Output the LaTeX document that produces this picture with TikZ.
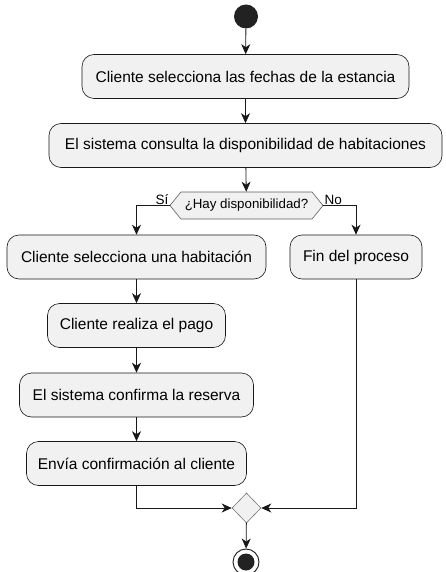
\documentclass[tikz,border=0pt]{standalone}
\usepackage{fontspec}
\setmainfont{Liberation Sans}
\usetikzlibrary{arrows.meta,shapes.geometric,shapes.symbols}
\definecolor{lineclr}{HTML}{181818}
\definecolor{boxclr}{HTML}{F1F1F1}
\definecolor{dotclr}{HTML}{222222}

\begin{document}
\begin{tikzpicture}[x=1pt,y=-1pt,
    act/.style={draw=lineclr,fill=boxclr,rounded corners=12pt,line width=0.6pt,minimum height=44pt,inner sep=0pt,font=\fontsize{15.5}{18}\selectfont},
    choice/.style={draw=lineclr!70,fill=boxclr,line width=0.6pt,shape=signal,signal to=east and west,signal pointer angle=102,minimum height=27pt,minimum width=153pt,inner sep=0pt,font=\fontsize{13.3}{16}\selectfont},
    merge/.style={draw=lineclr!60,fill=boxclr,shape=diamond,line width=0.6pt,minimum width=29pt,minimum height=30pt,inner sep=0pt},
    guard/.style={font=\fontsize{13.5}{16}\selectfont,inner sep=1pt},
    flow/.style={draw=lineclr,line width=0.8pt,-{Stealth[length=10pt,width=9pt,inset=3pt]}}]
  \useasboundingbox (0,0) rectangle (446,572);
  \node[circle,fill=dotclr,minimum size=24pt,inner sep=0pt] (start) at (246,16.5) {};
  \node[act,minimum width=327pt] (fechas) at (245.5,76.5) {Cliente selecciona las fechas de la estancia};
  \node[act,minimum width=393pt] (consulta) at (245.5,145.5) {El sistema consulta la disponibilidad de habitaciones};
  \node[choice] (hay) at (246.5,205.5) {¿Hay disponibilidad?};
  \node[act,minimum width=259pt] (habitacion) at (136.5,257) {Cliente selecciona una habitación};
  \node[act,minimum width=132pt] (fin) at (356,257) {Fin del proceso};
  \node[act,minimum width=178pt] (pago) at (136.5,325.5) {Cliente realiza el pago};
  \node[act,minimum width=234pt] (reserva) at (136.5,395) {El sistema confirma la reserva};
  \node[act,minimum width=220pt] (envia) at (136.5,463.5) {Envía confirmación al cliente};
  \node[merge] (junta) at (246.5,508) {};
  \node[circle,draw=lineclr,line width=0.9pt,fill=white,minimum size=26pt,inner sep=0pt] (stop) at (246,562) {};
  \node[circle,fill=dotclr,minimum size=17pt,inner sep=0pt] at (stop) {};

  \draw[flow] (start) -- (fechas);
  \draw[flow] (fechas) -- (consulta);
  \draw[flow] (consulta) -- (hay);
  \draw[flow] (hay.west) -| (habitacion.north);
  \draw[flow] (hay.east) -| (fin.north);
  \node[guard,anchor=south east] at (hay.west) {Sí};
  \node[guard,anchor=south west] at (hay.east) {No};
  \draw[flow] (habitacion) -- (pago);
  \draw[flow] (pago) -- (reserva);
  \draw[flow] (reserva) -- (envia);
  \draw[flow] (envia.south) |- (junta.west);
  \draw[flow] (fin.south) |- (junta.east);
  \draw[flow] (junta) -- (stop);
\end{tikzpicture}
\end{document}
